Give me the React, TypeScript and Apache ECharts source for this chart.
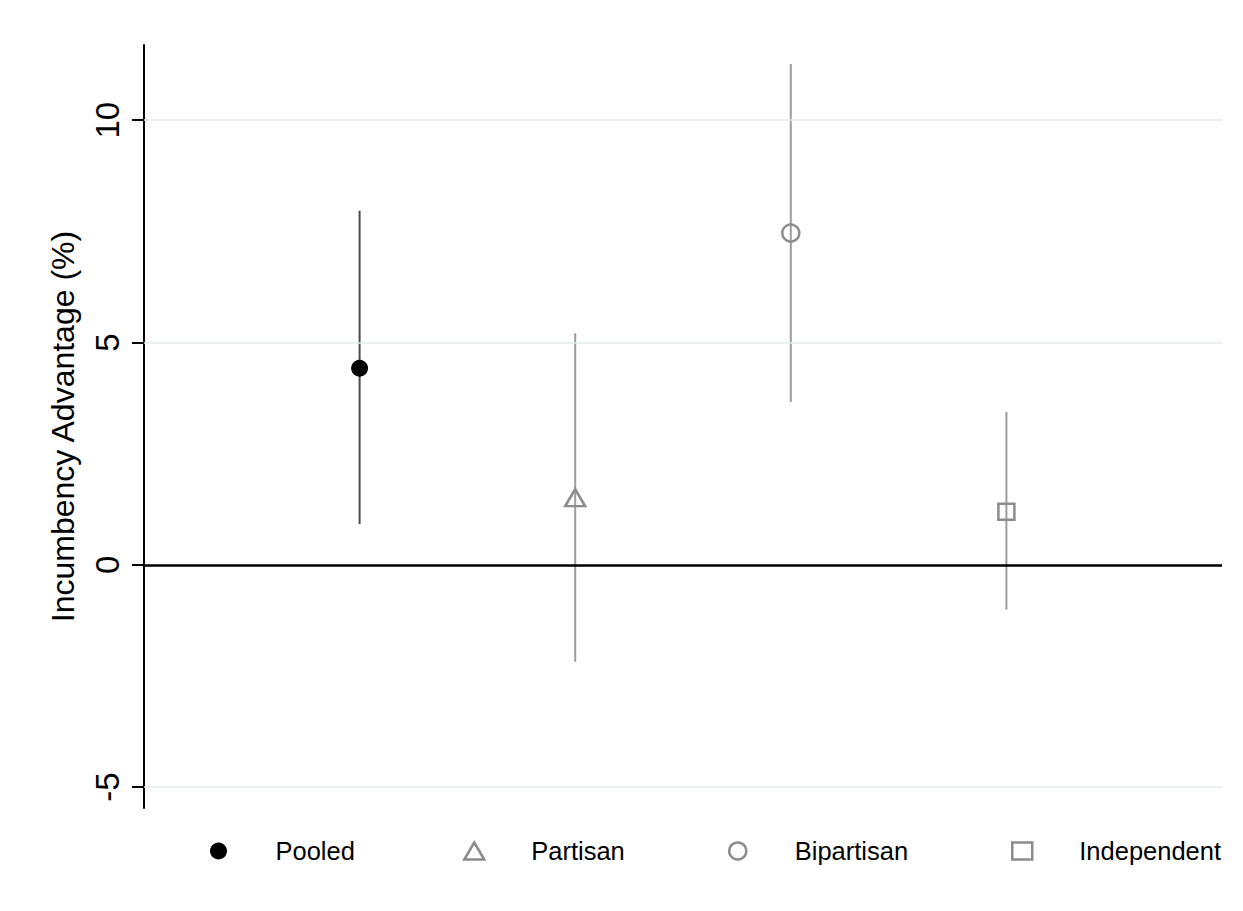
import React, { useEffect, useRef } from "react";
import * as echarts from "echarts";

const categories = ["Pooled", "Partisan", "Bipartisan", "Independent"];
const positions = [1, 2, 3, 4];
const estimates = [4.42, 1.51, 7.46, 1.19];
const lower = [0.92, -2.18, 3.66, -1.01];
const upper = [7.96, 5.21, 11.26, 3.44];
const yTicks = [-5, 0, 5, 10];
const yMin = -5.47;
const yMax = 11.69;

const symbols = ["circle", "triangle", "circle", "rect"];
const symbolSizes = [17, [20, 17], 17, 16];
const fills = ["#000000", "transparent", "transparent", "transparent"];
const strokes = ["#000000", "#8c8c8c", "#8c8c8c", "#8c8c8c"];
const ciColors = ["#4a4a4a", "#9c9c9c", "#9c9c9c", "#9c9c9c"];
const legendLefts = [210, 463, 728, 1011];

export default function App() {
  const ref = useRef<HTMLDivElement>(null);
  useEffect(() => {
    if (!ref.current) return;
    const chart = echarts.init(ref.current, null, { renderer: "svg" });
    const font = "'Liberation Sans', Arial, sans-serif";

    const ciSeries = categories.map((c, i) => ({
      type: "custom",
      name: c + " CI",
      z: 3,
      data: [[positions[i], lower[i], upper[i]]],
      renderItem: (params: any, api: any) => {
        const x = api.value(0);
        const p1 = api.coord([x, api.value(1)]);
        const p2 = api.coord([x, api.value(2)]);
        return {
          type: "line",
          shape: { x1: p1[0], y1: p1[1], x2: p2[0], y2: p2[1] },
          style: { stroke: ciColors[i], lineWidth: 2 },
        };
      },
    }));

    const pointSeries = categories.map((c, i) => ({
      type: "scatter",
      name: c,
      z: 5,
      symbol: symbols[i],
      symbolSize: symbolSizes[i],
      data: [[positions[i], estimates[i]]],
      itemStyle: {
        color: fills[i],
        borderColor: strokes[i],
        borderWidth: i === 0 ? 0 : 2.5,
        opacity: 1,
      },
    }));

    const gridSeries = {
      type: "line",
      name: "grid",
      z: 1,
      data: [],
      markLine: {
        silent: true,
        symbol: "none",
        label: { show: false },
        data: yTicks.map((v) => ({
          yAxis: v,
          lineStyle: {
            color: v === 0 ? "#000000" : "#e4ecec",
            width: v === 0 ? 2.5 : 1.5,
            type: "solid",
          },
        })),
      },
    };

    const legends = categories.map((c, i) => ({
      data: [c],
      left: legendLefts[i],
      top: 838,
      orient: "horizontal",
      padding: 0,
      itemWidth: 20,
      itemHeight: 17,
      itemStyle: { borderWidth: i === 0 ? 0 : 2.5 },
      textStyle: {
        fontFamily: font,
        fontSize: 25.5,
        color: "#000000",
        padding: [0, 0, 0, 42],
      },
      selectedMode: false,
    }));

    chart.setOption({
      animation: false,
      backgroundColor: "#ffffff",
      textStyle: { fontFamily: font },
      legend: legends,
      grid: { left: 144, right: 21, top: 45, bottom: 103, containLabel: false },
      xAxis: {
        type: "value",
        min: 0,
        max: 5,
        show: false,
      },
      yAxis: {
        type: "value",
        min: yMin,
        max: yMax,
        name: "Incumbency Advantage (%)",
        nameLocation: "middle",
        nameRotate: 90,
        nameGap: 65,
        nameTextStyle: { fontFamily: font, fontSize: 32, color: "#000000" },
        axisLine: { show: true, lineStyle: { color: "#000000", width: 2 } },
        axisTick: {
          show: true,
          length: 12,
          lineStyle: { color: "#000000", width: 2 },
          customValues: yTicks,
        },
        axisLabel: {
          show: true,
          rotate: 90,
          margin: 20,
          fontFamily: font,
          fontSize: 33,
          color: "#000000",
          customValues: yTicks,
        },
        splitLine: { show: false },
      },
      series: [gridSeries, ...ciSeries, ...pointSeries],
    });
    return () => chart.dispose();
  }, []);
  return (
    <div
      ref={ref}
      style={{ position: "fixed", left: 0, top: 0, width: 1243, height: 911, background: "#fff" }}
    />
  );
}
